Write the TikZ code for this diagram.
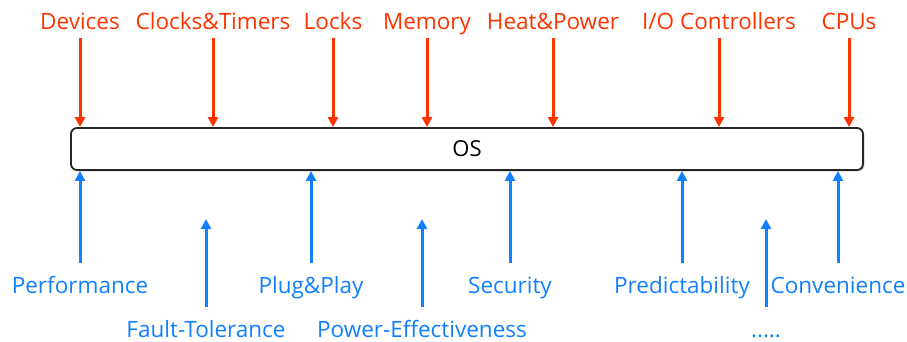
\documentclass[tikz,border=0pt]{standalone}
\usepackage{fontspec}
\setmainfont{Open Sans}
\usetikzlibrary{arrows.meta,shadows}

\definecolor{resred}{RGB}{255,51,0}
\definecolor{goalblue}{RGB}{16,128,255}

\tikzset{
    osbox/.style={draw=black!85, line width=1.8pt, rounded corners=6pt, fill=white,
        drop shadow={shadow xshift=1.5pt, shadow yshift=-1.5pt, opacity=0.35}},
    reslabel/.style={text=resred, font=\fontsize{22.5}{26}\selectfont, anchor=base,
        inner sep=2pt, text height=16pt, text depth=0pt},
    goallabel/.style={text=goalblue, font=\fontsize{22.5}{26}\selectfont, anchor=base,
        inner sep=2pt, text height=16pt, text depth=0pt},
    resarrow/.style={draw=resred, line width=3pt, -{Triangle[width=10pt,length=10pt]}, shorten <=7pt},
    goalarrow/.style={draw=goalblue, line width=3pt, -{Triangle[width=10pt,length=10pt]}, shorten <=12pt}
}

\begin{document}
\begin{tikzpicture}[x=1pt, y=-1pt]
    \useasboundingbox (0,0) rectangle (907,341);

    \node[osbox, minimum width=792pt, minimum height=42pt,
          font=\fontsize{22}{26}\selectfont] (os) at (467,149) {OS};

%Resources on top

    \node[reslabel] (dev) at (80,29) {Devices};
    \node[reslabel] (clk) at (213,29) {Clocks\&Timers};
    \node[reslabel] (lck) at (333,29) {Locks};
    \node[reslabel] (mem) at (427,29) {Memory};
    \node[reslabel] (heat) at (553,29) {Heat\&Power};
    \node[reslabel] (io) at (719,29) {I/O Controllers};
    \node[reslabel] (cpu) at (849,29) {CPUs};

    \draw[resarrow] (dev) -- (dev |- os.north);
    \draw[resarrow] (clk) -- (clk |- os.north);
    \draw[resarrow] (lck) -- (lck |- os.north);
    \draw[resarrow] (mem) -- (mem |- os.north);
    \draw[resarrow] (heat) -- (heat |- os.north);
    \draw[resarrow] (io) -- (io |- os.north);
    \draw[resarrow] (cpu) -- (cpu |- os.north);

%Goals below, first row

    \node[goallabel] (perf) at (80,293) {Performance};
    \node[goallabel] (plug) at (311,293) {Plug\&Play};
    \node[goallabel] (sec) at (510,293) {Security};
    \node[goallabel] (pred) at (682,293) {Predictability};
    \node[goallabel] (conv) at (838,293) {Convenience};

    \draw[goalarrow] (perf) -- (perf |- os.south);
    \draw[goalarrow] (plug) -- (plug |- os.south);
    \draw[goalarrow] (sec) -- (sec |- os.south);
    \draw[goalarrow] (pred) -- (pred |- os.south);
    \draw[goalarrow] (conv) -- (conv |- os.south);

%Goals below, second row (arrows stop short of the box)

    \coordinate (short) at (0,219);

    \node[goallabel] (fault) at (206,337) {Fault-Tolerance};
    \node[goallabel] (power) at (422,337) {Power-Effectiveness};
    \node[goallabel] (more) at (766,337) {.....};

    \draw[goalarrow] (fault) -- (fault |- short);
    \draw[goalarrow] (power) -- (power |- short);
    \draw[goalarrow] (more) -- (more |- short);

\end{tikzpicture}
\end{document}
